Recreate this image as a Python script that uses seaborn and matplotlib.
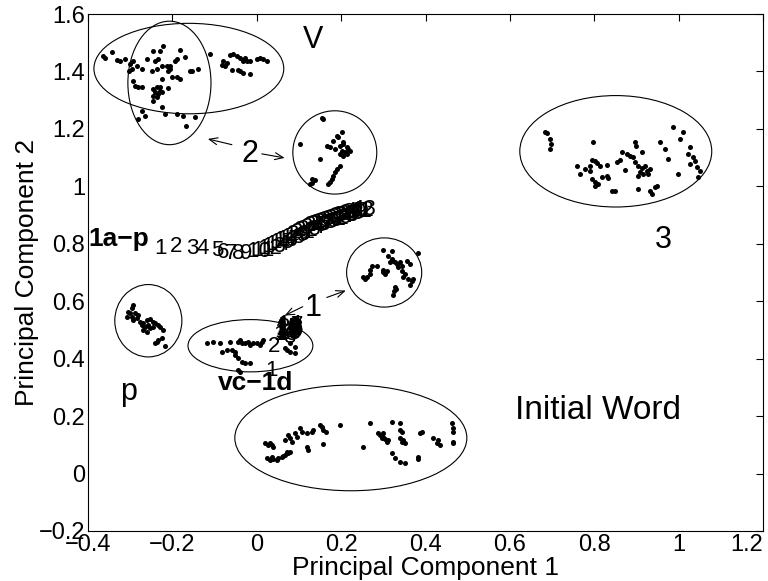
import numpy as np
import pandas as pd
import matplotlib
matplotlib.use("Agg")
import matplotlib.pyplot as plt
from matplotlib.patches import Ellipse
import seaborn as sns

# --- cluster points ---
v_x = [-0.365, -0.360, -0.344, -0.332, -0.325, -0.313, -0.300, -0.294, -0.284, -0.296, -0.303,
       -0.272, -0.260, -0.246, -0.230, -0.223, -0.242, -0.235, -0.249, -0.237, -0.225, -0.213,
       -0.206, -0.210, -0.206, -0.194, -0.190, -0.182, -0.170, -0.200, -0.190, -0.182, -0.225,
       -0.159, -0.154, -0.140, -0.294, -0.289, -0.282, -0.272, -0.246, -0.237, -0.230, -0.242,
       -0.235, -0.225, -0.237, -0.246, -0.230, -0.211, -0.246, -0.272, -0.265, -0.282, -0.225,
       -0.218, -0.190, -0.175, -0.147, -0.168, -0.111, -0.081, -0.071, -0.083, -0.076, -0.059,
       -0.064, -0.057, -0.047, -0.040, -0.033, -0.028, -0.024, -0.017, -0.040, -0.033, -0.017,
       -0.045, 0.000, 0.007, 0.014, 0.024]
v_y = [1.455, 1.448, 1.466, 1.440, 1.435, 1.445, 1.427, 1.435, 1.420, 1.410, 1.403,
       1.407, 1.445, 1.470, 1.470, 1.487, 1.438, 1.445, 1.403, 1.410, 1.420, 1.418,
       1.420, 1.403, 1.410, 1.438, 1.445, 1.473, 1.452, 1.382, 1.382, 1.375, 1.375,
       1.403, 1.400, 1.410, 1.368, 1.351, 1.347, 1.347, 1.340, 1.347, 1.347, 1.330,
       1.323, 1.330, 1.312, 1.316, 1.333, 1.344, 1.298, 1.263, 1.246, 1.235, 1.277,
       1.253, 1.253, 1.246, 1.242, 1.210, 1.459, 1.438, 1.428, 1.421, 1.418, 1.404,
       1.456, 1.460, 1.453, 1.446, 1.438, 1.446, 1.435, 1.438, 1.400, 1.393, 1.390,
       1.404, 1.442, 1.446, 1.442, 1.438]

c2_x = [0.154, 0.156, 0.102, 0.149, 0.166, 0.173, 0.180, 0.185, 0.190, 0.192, 0.197, 0.204,
        0.213, 0.201, 0.209, 0.216, 0.197, 0.204, 0.213, 0.220, 0.201, 0.204, 0.197, 0.190,
        0.185, 0.180, 0.178, 0.173, 0.168, 0.130, 0.137, 0.130, 0.126]
c2_y = [1.239, 1.236, 1.148, 1.096, 1.141, 1.138, 1.159, 1.131, 1.176, 1.173, 1.141, 1.148,
        1.138, 1.124, 1.120, 1.131, 1.113, 1.106, 1.113, 1.124, 1.190, 1.155, 1.071, 1.060,
        1.050, 1.036, 1.025, 1.015, 1.008, 1.025, 1.022, 1.011, 1.008]

c3_x = [0.683, 0.687, 0.694, 0.697, 0.694, 0.796, 0.896, 0.900, 0.865, 0.877, 0.884, 0.891,
        0.912, 0.794, 0.801, 0.806, 0.789, 0.813, 0.830, 0.853, 0.860, 0.903, 0.912, 0.920,
        0.924, 0.908, 0.915, 0.927, 0.903, 0.931, 0.896, 0.758, 0.766, 0.777, 0.789, 0.794,
        0.801, 0.801, 0.808, 0.818, 0.830, 0.832, 0.841, 0.848, 0.872, 0.903, 0.931, 0.936,
        0.943, 0.948, 0.986, 1.010, 1.003, 1.026, 1.022, 1.033, 1.038, 1.026, 1.043, 1.050,
        1.045, 0.967, 0.955, 0.974, 0.998]
c3_y = [1.190, 1.186, 1.165, 1.148, 1.130, 1.155, 1.155, 1.141, 1.120, 1.113, 1.106, 1.103,
        1.120, 1.092, 1.089, 1.082, 1.071, 1.071, 1.075, 1.085, 1.092, 1.071, 1.064, 1.071,
        1.054, 1.050, 1.043, 1.043, 1.036, 1.061, 1.085, 1.071, 1.043, 1.061, 1.054, 1.025,
        1.015, 1.001, 1.008, 1.033, 1.036, 1.029, 0.984, 0.984, 1.057, 0.990, 0.984, 0.973,
        0.998, 1.001, 1.207, 1.190, 1.165, 1.138, 1.113, 1.102, 1.089, 1.078, 1.068, 1.054,
        1.033, 1.130, 1.155, 1.095, 1.043]

c1_x = [0.299, 0.320, 0.310, 0.320, 0.322, 0.327, 0.315, 0.332, 0.339, 0.344, 0.334, 0.382,
        0.356, 0.363, 0.273, 0.284, 0.268, 0.299, 0.308, 0.303, 0.299, 0.251, 0.256, 0.261,
        0.268, 0.344, 0.351, 0.346, 0.358, 0.367, 0.363, 0.370, 0.327, 0.325, 0.322, 0.329]
c1_y = [0.780, 0.774, 0.756, 0.746, 0.739, 0.735, 0.735, 0.728, 0.735, 0.721, 0.718, 0.767,
        0.739, 0.728, 0.721, 0.721, 0.710, 0.710, 0.704, 0.693, 0.700, 0.683, 0.676, 0.686,
        0.693, 0.704, 0.693, 0.686, 0.676, 0.669, 0.658, 0.676, 0.648, 0.634, 0.623, 0.641]

p_x = [-0.294, -0.296, -0.306, -0.301, -0.308, -0.296, -0.289, -0.294, -0.284, -0.282,
       -0.277, -0.270, -0.261, -0.254, -0.246, -0.242, -0.265, -0.258, -0.254, -0.246,
       -0.235, -0.230, -0.273, -0.270, -0.261, -0.223, -0.235, -0.237, -0.242, -0.225, -0.218]
p_y = [0.588, 0.578, 0.564, 0.560, 0.546, 0.546, 0.560, 0.536, 0.543, 0.553,
       0.529, 0.525, 0.536, 0.539, 0.529, 0.525, 0.511, 0.518, 0.508, 0.511,
       0.518, 0.511, 0.518, 0.500, 0.494, 0.500, 0.466, 0.459, 0.455, 0.473, 0.445]

vc_x = [-0.118, -0.104, -0.088, -0.064, -0.059, -0.052, -0.045, -0.040, -0.036, -0.028,
        -0.021, -0.017, -0.009, 0.000, 0.007, 0.012, 0.014, -0.052, -0.045, -0.036, -0.028,
        -0.017, -0.045, -0.040, 0.066, 0.071, 0.078, 0.090, 0.078, 0.090, -0.083, -0.071]
vc_y = [0.455, 0.459, 0.455, 0.459, 0.430, 0.424, 0.459, 0.466, 0.455, 0.455,
        0.459, 0.448, 0.455, 0.455, 0.448, 0.459, 0.466, 0.413, 0.403, 0.389, 0.385,
        0.385, 0.361, 0.354, 0.438, 0.430, 0.424, 0.420, 0.455, 0.441, 0.424, 0.430]

iw_x = [0.019, 0.026, 0.036, 0.038, 0.031, 0.024, 0.031, 0.038, 0.050, 0.059, 0.066, 0.073,
        0.078, 0.047, 0.036, 0.062, 0.071, 0.066, 0.078, 0.073, 0.090, 0.102, 0.107, 0.118,
        0.130, 0.133, 0.149, 0.154, 0.156, 0.164, 0.083, 0.095, 0.118, 0.121, 0.156, 0.197,
        0.251, 0.268, 0.287, 0.292, 0.299, 0.303, 0.308, 0.296, 0.310, 0.299, 0.320, 0.339,
        0.339, 0.344, 0.339, 0.344, 0.351, 0.346, 0.320, 0.327, 0.339, 0.351, 0.382, 0.382,
        0.386, 0.391, 0.417, 0.429, 0.434, 0.427, 0.462, 0.465, 0.465, 0.465, 0.465]
iw_y = [0.105, 0.098, 0.098, 0.091, 0.105, 0.053, 0.046, 0.049, 0.053, 0.056, 0.063, 0.070,
        0.074, 0.046, 0.056, 0.060, 0.074, 0.116, 0.123, 0.133, 0.140, 0.158, 0.144, 0.140,
        0.144, 0.151, 0.168, 0.161, 0.151, 0.144, 0.109, 0.126, 0.091, 0.081, 0.102, 0.168,
        0.091, 0.175, 0.140, 0.133, 0.126, 0.119, 0.109, 0.123, 0.116, 0.140, 0.179, 0.175,
        0.151, 0.144, 0.123, 0.109, 0.105, 0.116, 0.070, 0.053, 0.039, 0.035, 0.056, 0.049,
        0.140, 0.144, 0.123, 0.116, 0.098, 0.105, 0.175, 0.158, 0.144, 0.109, 0.105]

# --- numbered trajectories (left edge / vertical middle of each label) ---
traj_a_x = [-0.242, -0.206, -0.168, -0.142, -0.109, -0.095, -0.076, -0.059, -0.040,
            -0.024, -0.012, 0.000, 0.010, 0.020, 0.029, 0.038, 0.047, 0.056, 0.064,
            0.072, 0.080, 0.088, 0.096, 0.104, 0.111, 0.118, 0.125, 0.132, 0.139,
            0.146, 0.153, 0.160, 0.166, 0.172, 0.178, 0.184, 0.190, 0.196, 0.202,
            0.208, 0.214, 0.219, 0.224]
traj_a_y = [0.784, 0.791, 0.784, 0.784, 0.777, 0.770, 0.767, 0.767, 0.767,
            0.772, 0.778, 0.784, 0.790, 0.796, 0.803, 0.810, 0.816, 0.822, 0.828,
            0.834, 0.840, 0.845, 0.851, 0.857, 0.862, 0.866, 0.870, 0.874, 0.878,
            0.882, 0.885, 0.888, 0.891, 0.894, 0.897, 0.900, 0.903, 0.906, 0.909,
            0.912, 0.914, 0.916, 0.918]

traj_b_x = [0.020, 0.026, 0.062, 0.070, 0.075, 0.078, 0.080, 0.082, 0.080, 0.040,
            0.042, 0.045, 0.047, 0.048, 0.046, 0.044, 0.043, 0.046, 0.048, 0.050]
traj_b_y = [0.360, 0.444, 0.475, 0.490, 0.500, 0.510, 0.515, 0.505, 0.495, 0.485,
            0.495, 0.505, 0.512, 0.518, 0.510, 0.500, 0.492, 0.488, 0.498, 0.508]

# --- ellipses round the clusters: centre x, centre y, width, height ---
ell_cx = [-0.161, -0.207, 0.185, 0.851, 0.302, -0.257, -0.015, 0.223]
ell_cy = [1.410, 1.360, 1.118, 1.122, 0.700, 0.532, 0.445, 0.124]
ell_w = [0.450, 0.197, 0.199, 0.455, 0.178, 0.159, 0.296, 0.550]
ell_h = [0.315, 0.430, 0.290, 0.388, 0.241, 0.252, 0.182, 0.368]

# --- annotation labels ---
big_labels = ["V", "2", "3", "1", "p", "Initial Word"]
big_x = [0.109, -0.035, 0.944, 0.114, -0.325, 0.612]
big_y = [1.508, 1.113, 0.812, 0.578, 0.283, 0.220]
big_sizes = [22, 22, 22, 22, 22, 24]
bold_labels = ["1a\u2212p", "vc\u22121d"]
bold_x = [-0.398, -0.092]
bold_y = [0.816, 0.315]

# arrows: tail -> head
arrow_tail = [(-0.059, 1.145), (0.012, 1.113), (0.109, 0.581), (0.166, 0.613)]
arrow_head = [(-0.116, 1.165), (0.066, 1.099), (0.066, 0.550), (0.211, 0.637)]

x_ticks = [-0.4, -0.2, 0, 0.2, 0.4, 0.6, 0.8, 1.0, 1.2]
x_tick_labels = ["\u22120.4", "\u22120.2", "0", "0.2", "0.4", "0.6", "0.8", "1", "1.2"]
y_ticks = [-0.2, 0, 0.2, 0.4, 0.6, 0.8, 1.0, 1.2, 1.4, 1.6]
y_tick_labels = ["\u22120.2", "0", "0.2", "0.4", "0.6", "0.8", "1", "1.2", "1.4", "1.6"]


def main():
    sns.set_style("white")
    plt.rcParams["font.family"] = ["Liberation Sans", "DejaVu Sans"]
    plt.rcParams["xtick.direction"] = "in"
    plt.rcParams["ytick.direction"] = "in"
    for key in ["text.color", "axes.labelcolor", "xtick.color", "ytick.color"]:
        plt.rcParams[key] = "black"

    pts = pd.DataFrame({
        "pc1": v_x + c2_x + c3_x + c1_x + p_x + vc_x + iw_x,
        "pc2": v_y + c2_y + c3_y + c1_y + p_y + vc_y + iw_y,
    })

    fig = plt.figure(figsize=(7.68, 5.81), dpi=100)
    ax = fig.add_axes([0.1146, 0.0861, 0.8789, 0.8898])

    sns.scatterplot(data=pts, x="pc1", y="pc2", ax=ax, color="black", s=13,
                    linewidth=0, legend=False)

    for cx, cy, w, h in zip(ell_cx, ell_cy, ell_w, ell_h):
        ax.add_patch(Ellipse((cx, cy), w, h, fill=False, edgecolor="black", lw=0.8))

    for i, (tx, ty) in enumerate(zip(traj_a_x, traj_a_y)):
        ax.text(tx, ty, str(i + 1), fontsize=16, ha="left", va="center")
    for i, (tx, ty) in enumerate(zip(traj_b_x, traj_b_y)):
        ax.text(tx, ty, str(i + 1), fontsize=16, ha="left", va="center")

    for lab, tx, ty, fs in zip(big_labels, big_x, big_y, big_sizes):
        ax.text(tx, ty, lab, fontsize=fs, ha="left", va="center")
    for lab, tx, ty in zip(bold_labels, bold_x, bold_y):
        ax.text(tx, ty, lab, fontsize=19, fontweight="bold", ha="left", va="center")

    for tail, head in zip(arrow_tail, arrow_head):
        ax.annotate("", xy=head, xytext=tail,
                    arrowprops=dict(arrowstyle="->,head_length=0.6,head_width=0.25",
                                    lw=0.8, color="black", shrinkA=0, shrinkB=0))

    ax.set_xlim(-0.4, 1.2)
    ax.set_ylim(-0.2, 1.6)
    ax.set_xticks(x_ticks)
    ax.set_xticklabels(x_tick_labels)
    ax.set_yticks(y_ticks)
    ax.set_yticklabels(y_tick_labels)
    ax.tick_params(axis="both", labelsize=17, length=5, width=0.8, top=True, right=True,
                   pad=2)
    # last x label sits flush with the figure edge
    ax.get_xticklabels()[-1].set_horizontalalignment("right")
    for sp in ax.spines.values():
        sp.set_linewidth(0.8)
        sp.set_color("black")

    ax.set_xlabel("Principal Component 1", fontsize=19, labelpad=0)
    ax.set_ylabel("Principal Component 2", fontsize=19, labelpad=0)

    fig.savefig("out.png", dpi=100)


if __name__ == "__main__":
    main()
